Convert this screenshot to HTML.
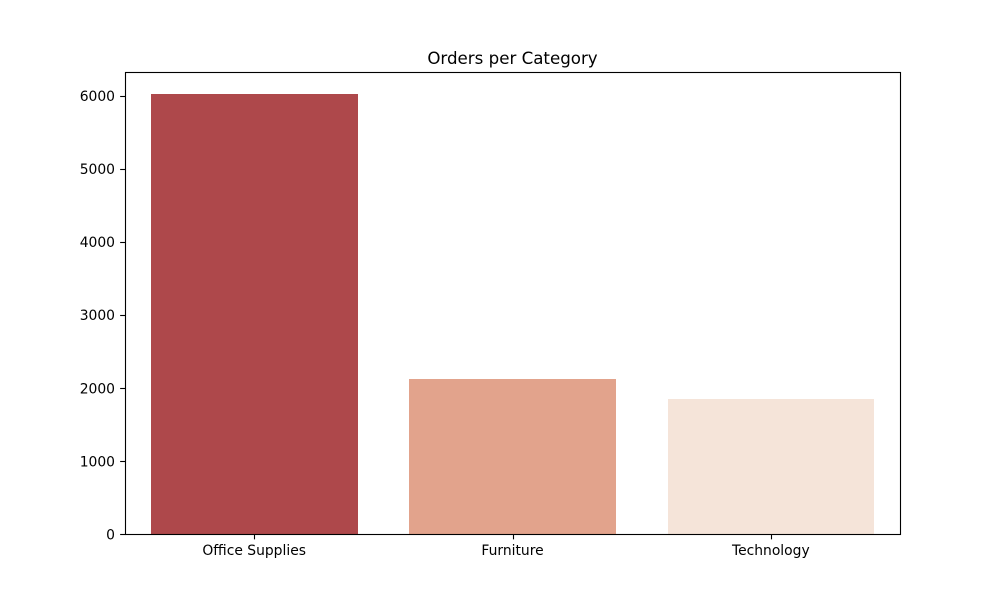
<!DOCTYPE html>
<html lang="en">
<head>
<meta charset="utf-8">
<title>Orders per Category</title>
<style>
html,body{margin:0;padding:0;background:#fff;}
svg{display:block;}
text{font-family:"DejaVu Sans","Liberation Sans",sans-serif;fill:#000;}
</style>
</head>
<body>
<svg id="chart" xmlns="http://www.w3.org/2000/svg" width="1000" height="600" viewBox="0 0 1000 600">
<rect x="0" y="0" width="1000" height="600" fill="#ffffff"></rect>
<text x="512.5" y="64" text-anchor="middle" font-size="16.67">Orders per Category</text>
<g id="bars"></g>
<g id="y-axis"></g>
<g id="x-axis"></g>
<rect x="125.5" y="72.5" width="775" height="462" fill="none" stroke="#000" stroke-width="1.11"></rect>
</svg>
<script>
const categories = ['Office Supplies', 'Furniture', 'Technology'];
const orderCounts = [6026, 2121, 1847];
const barColors = ['#ae484b', '#e2a38c', '#f5e4d9'];
const yTickValues = [0, 1000, 2000, 3000, 4000, 5000, 6000];

const plotLeft = 125;
const plotRight = 900;
const plotTop = 72;
const plotBottom = 534;
const barWidthFraction = 0.8;
const NS = 'http://www.w3.org/2000/svg';

const yMax = Math.max(...orderCounts) * 1.05;
function yScale(v) {
  return plotBottom - (v / yMax) * (plotBottom - plotTop);
}
function xBand() {
  return (plotRight - plotLeft) / categories.length;
}
function xCenter(i) {
  return plotLeft + (i + 0.5) * xBand();
}
function snap(p) {
  return Math.round(p + 0.001);
}
function make(tag, attrs, parent) {
  const el = document.createElementNS(NS, tag);
  for (const k in attrs) el.setAttribute(k, attrs[k]);
  parent.appendChild(el);
  return el;
}

const barsG = document.getElementById('bars');
const xG = document.getElementById('x-axis');
const yG = document.getElementById('y-axis');

categories.forEach(function (cat, i) {
  const w = xBand() * barWidthFraction;
  const top = snap(yScale(orderCounts[i]));
  const left = snap(xCenter(i) - w / 2);
  const right = snap(xCenter(i) + w / 2);
  const bar = make('rect', {x: left, y: top, width: right - left, height: plotBottom - top, fill: barColors[i]}, barsG);
  
  

  const tx = Math.round(xCenter(i)) + 0.5;
  const tick = make('line', {x1: tx, x2: tx, y1: plotBottom, y2: plotBottom + 5.36, stroke: '#000', 'stroke-width': 1.11}, xG);
  
  

  const label = make('text', {x: xCenter(i), y: 555, 'text-anchor': 'middle', 'font-size': 13.89}, xG);
  
  
  label.textContent = cat;
});

yTickValues.forEach(function (v) {
  const ty = Math.round(yScale(v)) + 0.5;
  const tick = make('line', {x1: plotLeft - 4.86, x2: plotLeft + 0.5, y1: ty, y2: ty, stroke: '#000', 'stroke-width': 1.11}, yG);
  
  

  const label = make('text', {x: 115, y: yScale(v) + 5.3, 'text-anchor': 'end', 'font-size': 13.89}, yG);
  
  
  label.textContent = String(v);
});
</script>
</body>
</html>
